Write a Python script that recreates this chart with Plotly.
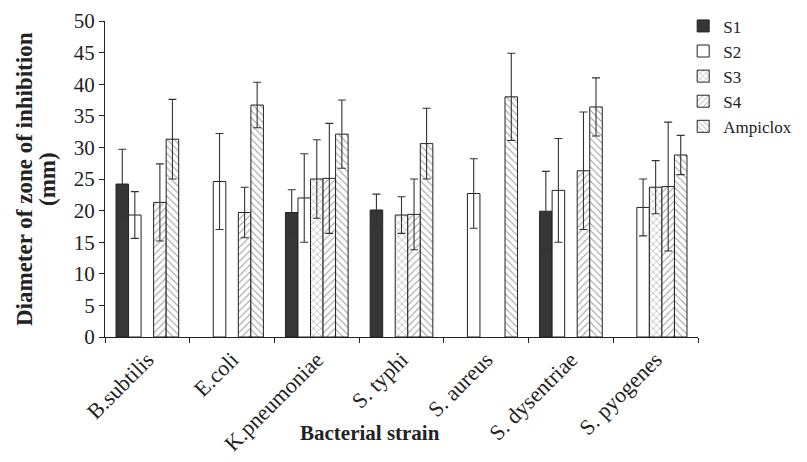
import plotly.graph_objects as go

categories = ["B.subtilis", "E.coli", "K.pneumoniae", "S. typhi", "S. aureus", "S. dysentriae", "S. pyogenes"]

s1 = [24.2, None, 19.7, 20.1, None, 19.9, None]
s1_err = [5.5, None, 3.6, 2.5, None, 6.3, None]
s2 = [19.3, 24.6, 22.0, None, 22.7, 23.2, 20.5]
s2_err = [3.7, 7.6, 7.0, None, 5.5, 8.2, 4.5]
s3 = [None, None, 25.0, 19.3, None, None, 23.7]
s3_err = [None, None, 6.2, 2.9, None, None, 4.2]
s4 = [21.3, 19.7, 25.1, 19.4, None, 26.3, 23.8]
s4_err = [6.1, 4.0, 8.7, 5.6, None, 9.3, 10.2]
ampiclox = [31.3, 36.7, 32.1, 30.6, 38.0, 36.4, 28.8]
ampiclox_err = [6.3, 3.6, 5.4, 5.6, 6.9, 4.6, 3.1]

series = [
    ("S1", s1, s1_err, "#363636", ""),
    ("S2", s2, s2_err, "white", ""),
    ("S3", s3, s3_err, "white", "x"),
    ("S4", s4, s4_err, "white", "/"),
    ("Ampiclox", ampiclox, ampiclox_err, "white", "\\"),
]

SERIF = "Liberation Serif, Times New Roman, serif"
INK = "#222222"

fig = go.Figure()
for name, vals, errs, color, shape in series:
    marker = dict(color=color, line=dict(color=INK, width=1))
    if shape:
        marker["pattern"] = dict(shape=shape, fgcolor="#333333", bgcolor="white",
                                 size=5, solidity=0.2, fillmode="overlay")
    fig.add_trace(go.Bar(
        name=name, x=categories, y=vals, marker=marker,
        error_y=dict(type="data", array=errs, symmetric=True,
                     color="#333333", thickness=1.1, width=4),
    ))

fig.update_layout(
    width=807, height=462,
    margin=dict(l=97, r=117, t=13, b=133, autoexpand=False),
    paper_bgcolor="white", plot_bgcolor="white",
    barmode="group", bargap=0.26, bargroupgap=0,
    font=dict(family=SERIF, color=INK, size=20),
    showlegend=True,
    legend=dict(x=0.975, y=1.04, xanchor="left", yanchor="top",
                font=dict(family=SERIF, size=17, color=INK),
                bgcolor="rgba(0,0,0,0)", tracegroupgap=0),
    xaxis=dict(showline=True, linecolor=INK, linewidth=1.2, automargin=False,
               ticks="outside", tickson="boundaries", ticklen=5, tickcolor=INK,
               tickangle=-45, tickfont=dict(family=SERIF, size=22, color=INK),
               showgrid=False),
    yaxis=dict(range=[0, 50], dtick=5, showline=True, linecolor=INK, linewidth=1.2,
               automargin=False, ticklabeloverflow="allow",
               ticks="outside", ticklen=5, tickcolor=INK,
               tickfont=dict(family=SERIF, size=21, color=INK),
               showgrid=False, zeroline=False),
)

fig.add_annotation(text="<b>Diameter of zone of inhibition</b>", xref="paper", yref="paper",
                   x=-0.1366, y=0.5, textangle=-90, showarrow=False,
                   xanchor="center", yanchor="middle",
                   font=dict(family=SERIF, size=23, color=INK))
fig.add_annotation(text="<b>(mm)</b>", xref="paper", yref="paper",
                   x=-0.0978, y=0.5, textangle=-90, showarrow=False,
                   xanchor="center", yanchor="middle",
                   font=dict(family=SERIF, size=23, color=INK))
fig.add_annotation(text="<b>Bacterial strain</b>", xref="paper", yref="paper",
                   x=0.447, y=-0.305, showarrow=False,
                   xanchor="center", yanchor="middle",
                   font=dict(family=SERIF, size=21, color=INK))

fig.write_html("out.html")
